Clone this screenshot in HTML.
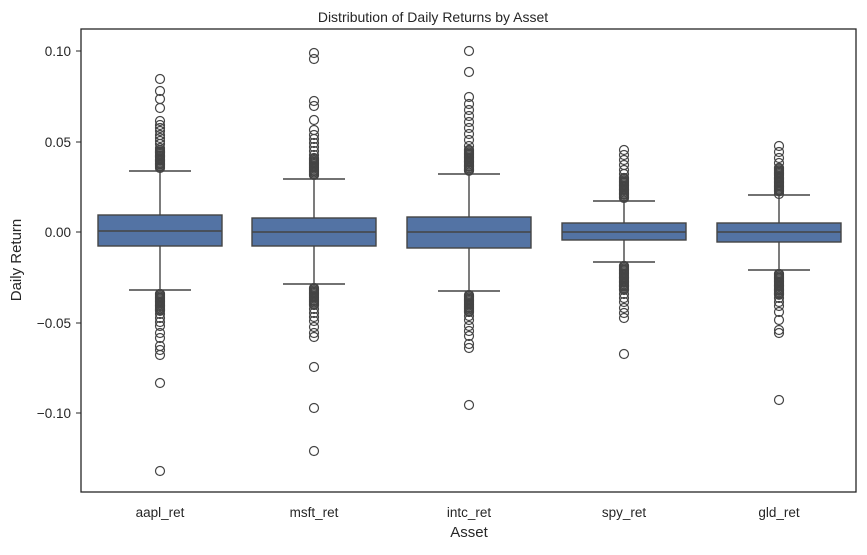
<!DOCTYPE html><html><head><style>body{margin:0;background:#fff}</style></head><body>
<svg id="s" width="867" height="550" xmlns="http://www.w3.org/2000/svg" font-family="Liberation Sans, sans-serif" fill="#262626">
<rect x="81" y="29" width="775" height="463" fill="none" stroke="#262626" stroke-width="1.3"/>
<text x="433" y="22" text-anchor="middle" font-size="14">Distribution of Daily Returns by Asset</text>
<g font-size="13.5" text-anchor="end">
<text x="71" y="56">0.10</text><text x="71" y="147">0.05</text><text x="71" y="237">0.00</text><text x="71" y="328">−0.05</text><text x="71" y="418">−0.10</text>
</g>
<g stroke="#262626"><line x1="76" x2="81" y1="51" y2="51"/><line x1="76" x2="81" y1="142" y2="142"/><line x1="76" x2="81" y1="232" y2="232"/><line x1="76" x2="81" y1="323" y2="323"/><line x1="76" x2="81" y1="413" y2="413"/></g>
<g font-size="13.5" text-anchor="middle">
<text x="160" y="517">aapl_ret</text><text x="314" y="517">msft_ret</text><text x="469" y="517">intc_ret</text><text x="624" y="517">spy_ret</text><text x="779" y="517">gld_ret</text>
</g>
<text x="469" y="537" text-anchor="middle" font-size="15">Asset</text>
<text transform="translate(21,260) rotate(-90)" text-anchor="middle" font-size="15">Daily Return</text>
<g id="b"></g>
</svg>
<script>
var B=[[160,215,246,231,171,290,[79,91,99,108,121,125,128,131,135,138,141,144,148,152,156,160,164,168],[294,298,302,306,310,314,318,322,326,333,338,346,350,355,383,471],150,312],
[314,218,246,232,179,284,[53,59,101,106,120,130,135,139,143,147,151,155,159,163,167,171,175],[289,293,297,301,305,309,313,317,321,327,333,337,367,408,451],158,305],
[469,217,248,232,174,291,[51,72,97,104,110,116,122,128,134,140,146,150,154,158,162,166,170],[296,300,304,308,312,316,320,326,331,336,344,348,405],150,312],
[624,223,240,232,201,262,[150,155,160,165,170,174,178,182,186,190,194,198],[266,270,274,278,282,286,290,294,298,302,308,313,318,354],178,290],
[779,223,242,232,195,270,[146,152,158,163,168,173,178,182,186,190,194],[274,278,282,286,290,294,298,302,306,312,320,330,333,400],168,295]];
var h='';B.forEach(function(b){var x=b[0];
h+='<line x1="'+x+'" x2="'+x+'" y1="'+b[4]+'" y2="'+b[1]+'" stroke="#444" stroke-width="1.4"/><line x1="'+x+'" x2="'+x+'" y1="'+b[2]+'" y2="'+b[5]+'" stroke="#444" stroke-width="1.4"/>';
h+='<line x1="'+(x-31)+'" x2="'+(x+31)+'" y1="'+b[4]+'" y2="'+b[4]+'" stroke="#444" stroke-width="1.4"/><line x1="'+(x-31)+'" x2="'+(x+31)+'" y1="'+b[5]+'" y2="'+b[5]+'" stroke="#444" stroke-width="1.4"/>';
h+='<rect x="'+(x-62)+'" y="'+b[1]+'" width="124" height="'+(b[2]-b[1])+'" fill="#5373a4" stroke="#444" stroke-width="1.4"/><line x1="'+(x-62)+'" x2="'+(x+62)+'" y1="'+b[3]+'" y2="'+b[3]+'" stroke="#444" stroke-width="1.4"/>';
var pts=b[6].concat(b[7]);
for(var y=b[8];y<b[4]-3;y+=1.3)pts.push(y);
for(var y=b[5]+4;y<b[9];y+=1.3)pts.push(y);
pts.forEach(function(y){h+='<circle cx="'+x+'" cy="'+y+'" r="4.5" fill="none" stroke="#444" stroke-width="1.2"/>';});});
document.getElementById('b').innerHTML=h;
</script>
</body></html>
